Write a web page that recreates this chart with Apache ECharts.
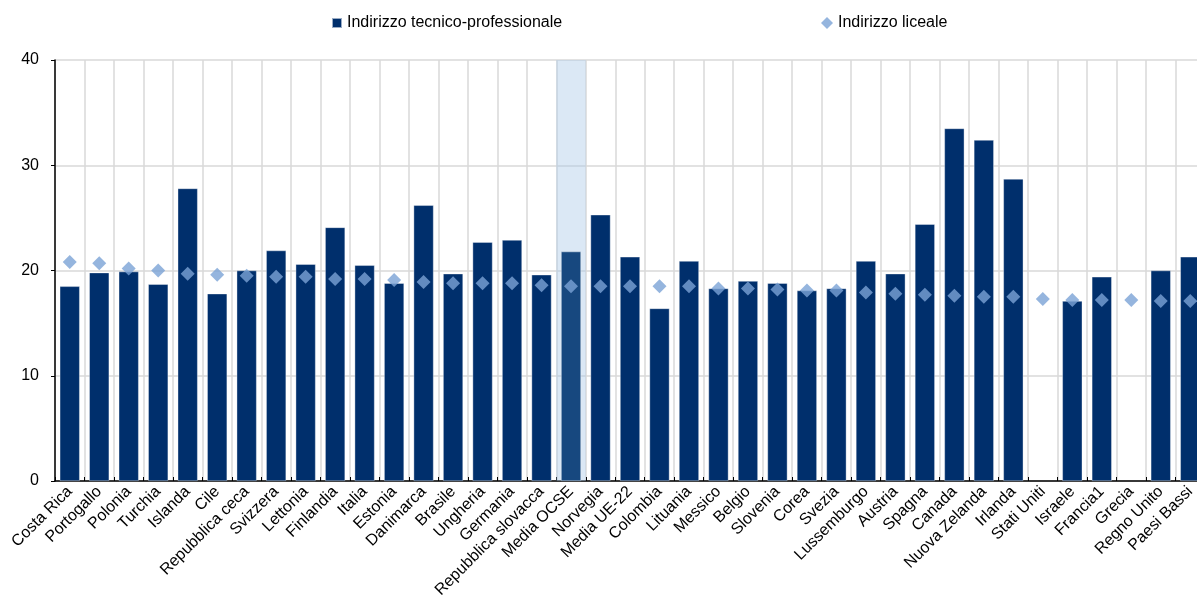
<!DOCTYPE html>
<html>
<head>
<meta charset="utf-8">
<script src="https://cdn.jsdelivr.net/npm/echarts@6/dist/echarts.min.js"></script>
<style>
html,body{margin:0;padding:0;background:#fff;}
#chart{width:1197px;height:596px;}
</style>
</head>
<body>
<div id="chart"></div>
<script>
const categories = ['Costa Rica','Portogallo','Polonia','Turchia','Islanda','Cile','Repubblica ceca','Svizzera','Lettonia','Finlandia','Italia','Estonia','Danimarca','Brasile','Ungheria','Germania','Repubblica slovacca','Media OCSE','Norvegia','Media UE-22','Colombia','Lituania','Messico','Belgio','Slovenia','Corea','Svezia','Lussemburgo','Austria','Spagna','Canada','Nuova Zelanda','Irlanda','Stati Uniti','Israele','Francia1','Grecia','Regno Unito','Paesi Bassi'];
const tecnico = [18.5,19.8,19.9,18.7,27.8,17.8,20.0,21.9,20.6,24.1,20.5,18.8,26.2,19.7,22.7,22.9,19.6,21.8,25.3,21.3,16.4,20.9,18.3,19.0,18.8,18.1,18.3,20.9,19.7,24.4,33.5,32.4,28.7,null,17.1,19.4,null,20.0,21.3];
const liceale = [20.8,20.7,20.2,20.0,19.7,19.6,19.5,19.4,19.4,19.2,19.2,19.1,18.9,18.8,18.8,18.8,18.6,18.5,18.5,18.5,18.5,18.5,18.3,18.3,18.2,18.1,18.1,17.9,17.8,17.7,17.6,17.5,17.5,17.3,17.2,17.2,17.2,17.1,17.1];
const highlighted = ['Media OCSE'];
const yTicks = [0, 10, 20, 30, 40];

const FONT = "'Liberation Sans', Arial, sans-serif";
const NAVY = '#002F6C';
const NAVY_HL = '#17487F';
const LIGHT = '#7BA3D6';

const chart = echarts.init(document.getElementById('chart'), null, {renderer: 'canvas'});
const yMax = yTicks[yTicks.length - 1];

chart.setOption({
  animation: false,
  backgroundColor: '#ffffff',
  textStyle: {fontFamily: FONT},
  legend: [
    {
      data: [{name: 'Indirizzo tecnico-professionale', icon: 'rect'}],
      left: 326, top: 10,
      itemWidth: 10, itemHeight: 10,
      textStyle: {fontFamily: FONT, fontSize: 16, color: '#000'},
      selectedMode: false
    },
    {
      data: [{name: 'Indirizzo liceale', icon: 'diamond'}],
      left: 816, top: 10,
      itemWidth: 12, itemHeight: 12,
      textStyle: {fontFamily: FONT, fontSize: 16, color: '#000'},
      selectedMode: false
    }
  ],
  grid: {left: 55, width: 1150, top: 60, bottom: 115, containLabel: false, outerBoundsMode: 'none'},
  xAxis: [
    {
      type: 'category',
      data: categories,
      boundaryGap: true,
      axisLine: {show: true, lineStyle: {color: '#000', width: 1.5}},
      axisTick: {show: true, inside: true, length: 4, interval: 0, lineStyle: {color: '#000'}},
      splitLine: {show: true, interval: 0, lineStyle: {color: '#d9d9d9', width: 1.5}},
      axisLabel: {interval: 0, rotate: 45, margin: 8, fontSize: 16, color: '#000', fontFamily: FONT}
    },
    {
      type: 'category',
      data: categories,
      show: false,
      boundaryGap: true
    }
  ],
  yAxis: {
    type: 'value',
    min: 0, max: yMax, interval: 10,
    axisLine: {show: true, lineStyle: {color: '#000', width: 1.5}},
    axisTick: {show: true, inside: false, length: 4, lineStyle: {color: '#000'}},
    splitLine: {show: true, lineStyle: {color: '#d9d9d9', width: 1.5}},
    axisLabel: {margin: 16, fontSize: 16, color: '#000', fontFamily: FONT}
  },
  series: [
    {
      name: 'highlight',
      type: 'bar',
      xAxisIndex: 1,
      barWidth: '100%',
      silent: true,
      z: 1,
      itemStyle: {color: 'rgba(170,200,232,0.42)'},
      data: categories.map(c => highlighted.includes(c) ? yMax : null)
    },
    {
      name: 'Indirizzo tecnico-professionale',
      type: 'bar',
      xAxisIndex: 0,
      barWidth: 20,
      z: 2,
      itemStyle: {color: NAVY, borderColor: 'rgba(255,255,255,0.6)', borderWidth: 0.6},
      data: tecnico.map((v, i) => highlighted.includes(categories[i])
        ? {value: v, itemStyle: {color: NAVY_HL}}
        : v)
    },
    {
      name: 'Indirizzo liceale',
      type: 'scatter',
      xAxisIndex: 0,
      symbol: 'diamond',
      symbolSize: 14,
      z: 3,
      itemStyle: {color: LIGHT},
      data: liceale
    }
  ]
});
</script>
</body>
</html>
